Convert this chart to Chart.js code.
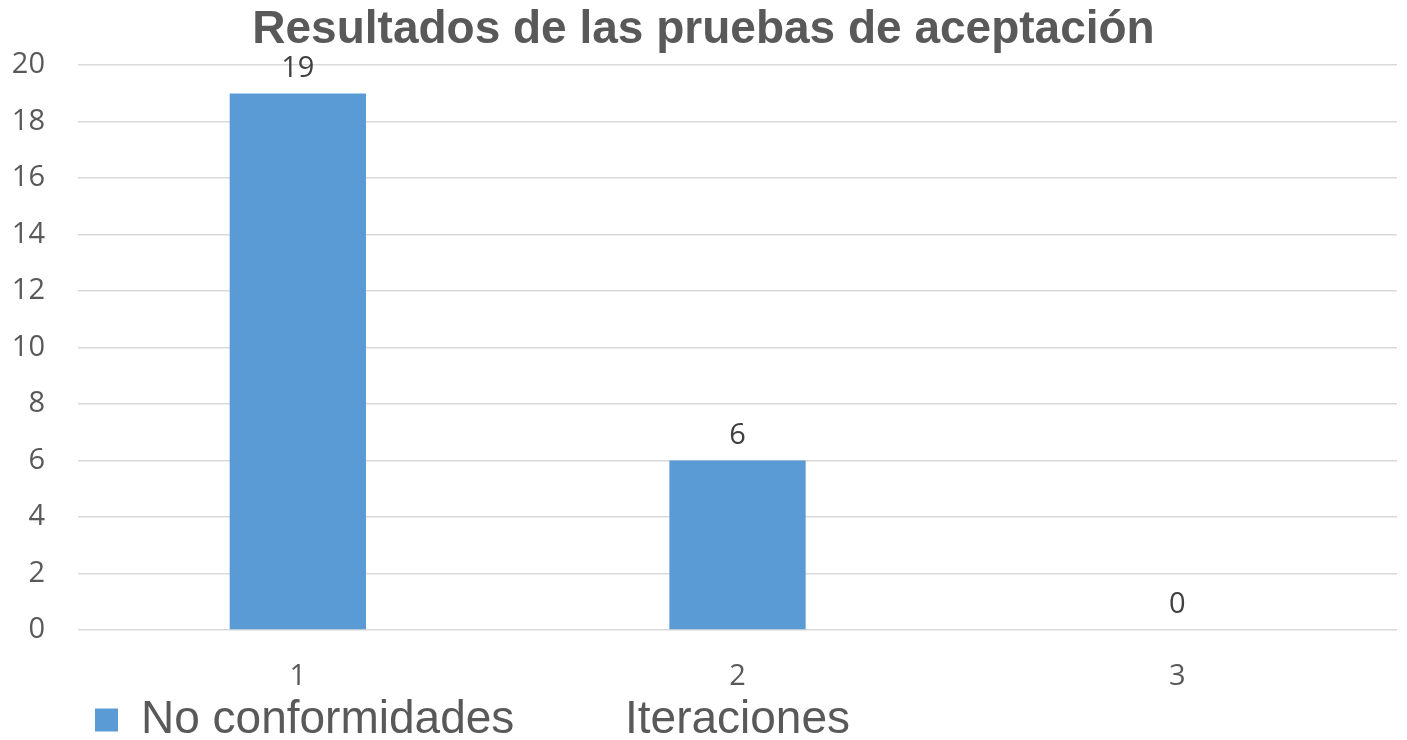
<!DOCTYPE html>
<html lang="es">
<head>
<meta charset="UTF-8">
<title>Resultados de las pruebas de aceptación</title>
<script src="https://cdn.jsdelivr.net/npm/chart.js"></script>
<style>
    body { margin: 0; background: #fff; }
    #wrap { width: 1407px; height: 740px; position: relative; }
</style>
</head>
<body>
<div id="wrap"><canvas id="chart"></canvas></div>
<script>
    const iteraciones = ['1', '2', '3'];
    const noConformidades = [19, 6, 0];
    const yTicks = [0, 2, 4, 6, 8, 10, 12, 14, 16, 18, 20];

    const grey = '#595959';

    // value labels above the bars
    const valueLabels = {
        id: 'valueLabels',
        afterDatasetsDraw(chart) {
            const ctx = chart.ctx;
            const meta = chart.getDatasetMeta(0);
            ctx.save();
            ctx.font = '29px "Open Sans"';
            ctx.fillStyle = '#404040';
            ctx.textAlign = 'center';
            ctx.textBaseline = 'middle';
            meta.data.forEach((bar, i) => {
                ctx.fillText(noConformidades[i], bar.x, bar.y - 25);
            });
            ctx.restore();
        }
    };

    // axis title sits on the same line as the legend
    const axisTitle = {
        id: 'axisTitle',
        afterDraw(chart) {
            const ctx = chart.ctx;
            const area = chart.chartArea;
            const item = chart.legend.legendHitBoxes[0];
            ctx.save();
            ctx.font = '46px "Liberation Sans"';
            ctx.fillStyle = grey;
            ctx.textAlign = 'center';
            ctx.textBaseline = 'middle';
            ctx.fillText('Iteraciones', (area.left + area.right) / 2, item.top + item.height / 2);
            ctx.restore();
        }
    };

    new Chart(document.getElementById('chart'), {
        type: 'bar',
        data: {
            labels: iteraciones,
            datasets: [{
                label: 'No conformidades',
                data: noConformidades,
                backgroundColor: '#5b9bd5',
                borderWidth: 0,
                categoryPercentage: 1,
                barPercentage: 0.31
            }]
        },
        options: {
            responsive: true,
            maintainAspectRatio: false,
            animation: false,
            layout: { padding: { left: 10, right: 10, top: 0, bottom: -13 } },
            plugins: {
                title: {
                    display: true,
                    text: 'Resultados de las pruebas de aceptación',
                    color: grey,
                    font: { family: '"Liberation Sans"', size: 46, weight: 'bold' },
                    padding: { top: 3, bottom: 7 }
                },
                legend: {
                    position: 'bottom',
                    align: 'start',
                    fullSize: false,
                    // empty title with negative padding pulls the legend row up
                    // so it shares the line with the axis title
                    title: {
                        display: true,
                        text: '',
                        font: { size: 10, lineHeight: 1.2 },
                        padding: { top: -24, bottom: 0 }
                    },
                    labels: {
                        color: grey,
                        font: { family: '"Liberation Sans"', size: 46 },
                        boxWidth: 23,
                        boxHeight: 23,
                        padding: 17
                    }
                },
                tooltip: { enabled: false }
            },
            scales: {
                x: {
                    grid: { display: false, drawTicks: true, tickLength: 31 },
                    border: { display: false },
                    ticks: {
                        color: grey,
                        font: { family: '"Open Sans"', size: 29, lineHeight: 1 },
                        padding: 1
                    }
                },
                y: {
                    min: 0,
                    max: 20,
                    afterBuildTicks(axis) {
                        axis.ticks = yTicks.map(v => ({ value: v }));
                    },
                    afterFit(axis) {
                        axis.width = 68;
                    },
                    grid: { color: '#d9d9d9', lineWidth: 1.5, drawTicks: false },
                    border: { display: false },
                    ticks: {
                        color: grey,
                        font: { family: '"Open Sans"', size: 29 },
                        padding: 33
                    }
                }
            }
        },
        plugins: [valueLabels, axisTitle]
    });
</script>
</body>
</html>
